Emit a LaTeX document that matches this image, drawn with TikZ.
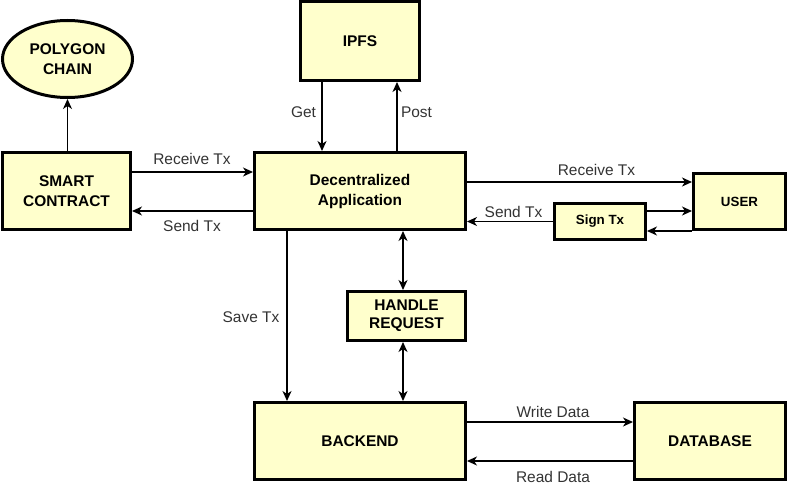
\documentclass[tikz,border=0pt]{standalone}
\usepackage{fontspec}
\setmainfont{Liberation Sans}
\usetikzlibrary{arrows.meta,shapes.geometric}
\definecolor{boxfill}{HTML}{FFFFCC}
\definecolor{lbl}{HTML}{333333}
\begin{document}
\begin{tikzpicture}[x=0.75pt,y=-0.75pt,
  box/.style={draw=black, line width=2.25pt, fill=boxfill, inner sep=0pt, align=center,
    font=\bfseries\fontsize{11.6}{15}\selectfont, text=black},
  smallbox/.style={box, font=\bfseries\fontsize{10}{12}\selectfont},
  arr/.style={line width=1.1pt, draw=black, -{Stealth[length=7.5pt,width=6.75pt,inset=2.2pt]}},
  darr/.style={line width=1.1pt, draw=black, {Stealth[length=7.5pt,width=6.75pt,inset=2.2pt]}-{Stealth[length=7.5pt,width=6.75pt,inset=2.2pt]}},
  lab/.style={font=\fontsize{11.6}{13}\selectfont, text=lbl, inner sep=0pt}]
\useasboundingbox (0,0) rectangle (789,492);

% nodes
\node[box, ellipse, minimum width=97.5pt, minimum height=57.75pt] (poly) at (67.5,59) {POLYGON\\CHAIN};
\node[box, minimum width=89.25pt, minimum height=59.25pt] (ipfs) at (360,41) {IPFS};
\node[box, minimum width=96pt, minimum height=57.75pt] (sc) at (66.5,191) {SMART\\CONTRACT};
\node[box, minimum width=158.25pt, minimum height=57.75pt] (dapp) at (360,191) {Decentralized\\Application};
\node[smallbox, minimum width=69pt, minimum height=42pt] (user) at (739.5,201.5) {USER};
\node[smallbox, minimum width=68.25pt, minimum height=27pt] (sign) at (600,221.5) {Sign Tx};
\node[box, font=\bfseries\fontsize{11.6}{13.5}\selectfont, minimum width=88.5pt, minimum height=36.75pt] (handle) at (406.5,316) {HANDLE\\REQUEST};
\node[box, minimum width=158.25pt, minimum height=57.75pt] (backend) at (360,441) {BACKEND};
\node[box, minimum width=113.25pt, minimum height=57.75pt] (db) at (710,441) {DATABASE};

% connectors
\draw[arr] (sc.north -| poly.south) -- (poly.south);
\draw[arr] ([yshift=14.25pt]sc.east) -- ([yshift=14.25pt]dapp.west);
\draw[arr] ([yshift=-15pt]dapp.west) -- ([yshift=-15pt]sc.east);
\draw[arr] ([xshift=-28.5pt]ipfs.south) -- ([xshift=-28.5pt]dapp.north);
\draw[arr] ([xshift=27.75pt]dapp.north) -- ([xshift=27.75pt]ipfs.south);
\draw[arr] ([yshift=6.75pt]dapp.east) -- ([yshift=6.75pt]dapp.east -| user.west);
\draw[arr] (sign.west) -- (sign.west -| dapp.east);
\draw[arr] ([yshift=7.875pt]sign.east) -- ([yshift=7.875pt]sign.east -| user.west);
\draw[arr] ([yshift=-7.125pt]sign.east -| user.west) -- ([yshift=-7.125pt]sign.east);
\draw[arr] ([xshift=-54.75pt]dapp.south) -- ([xshift=-54.75pt]backend.north);
\draw[darr] ([xshift=32.25pt]dapp.south) -- ([xshift=32.25pt]dapp.south |- handle.north);
\draw[darr] ([xshift=32.25pt]dapp.south |- handle.south) -- ([xshift=32.25pt]backend.north);
\draw[arr] ([yshift=14.25pt]backend.east) -- ([yshift=14.25pt]db.west);
\draw[arr] ([yshift=-15pt]db.west) -- ([yshift=-15pt]backend.east);

% labels
\node[lab] (l1) at (192,159) {Receive Tx};
\node[lab] (l2) at (192,226) {Send Tx};
\node[lab] (l3) at (303.5,112) {Get};
\node[lab] (l4) at (416.5,112) {Post};
\node[lab] (l5) at (596.5,170) {Receive Tx};
\node[lab] (l6) at (513.5,212) {Send Tx};
\node[lab] (l7) at (251,317) {Save Tx};
\node[lab] (l8) at (553,412) {Write Data};
\node[lab] (l9) at (553,477) {Read Data};
\end{tikzpicture}
\end{document}
